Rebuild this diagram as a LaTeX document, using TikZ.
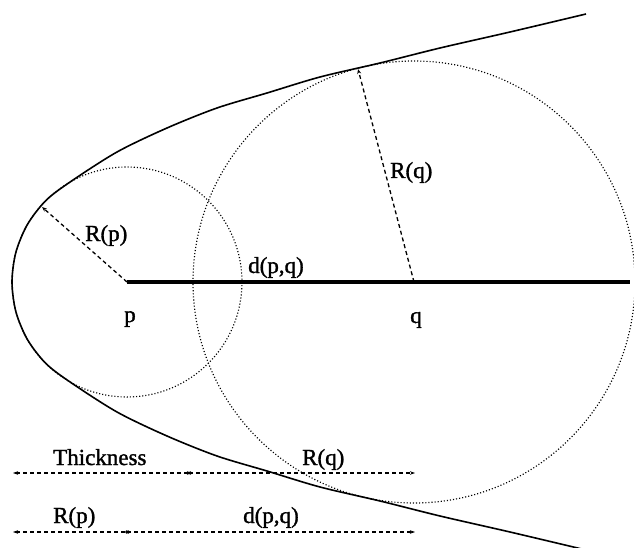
\documentclass[tikz,border=0pt]{standalone}
\usepackage{fontspec}
\setmainfont{Liberation Serif}
\newfontfamily\labfont{Liberation Serif}[FakeBold=1.3]
\usetikzlibrary{arrows.meta}
\begin{document}
\begin{tikzpicture}[x=1pt,y=-1pt,
  curve/.style={line width=1.6pt},
  axisline/.style={line width=3.3pt},
  dotcirc/.style={line width=1.15pt, dash pattern=on 1.1pt off 2pt},
  radiusline/.style={line width=1.3pt, dash pattern=on 4pt off 3pt, -{Stealth[length=5pt,width=4pt]}},
  meas/.style={line width=1.1pt, dash pattern=on 4pt off 3pt, {Stealth[length=5pt,width=3.5pt]}-{Stealth[length=5pt,width=3.5pt]}},
  lab/.style={inner sep=0pt, anchor=base west, font=\fontsize{23}{27}\labfont},
  clab/.style={inner sep=0pt, anchor=base, font=\fontsize{23}{27}\labfont}]
\useasboundingbox (0,0) rectangle (634,548);
\clip (0,0) rectangle (634,548);

% key points
\coordinate (p) at (127,282);
\coordinate (q) at (414,282);
\coordinate (e) at (630,282);
\coordinate (rp) at (42,207);
\coordinate (rq) at (358,69);

% boundary curve
\draw[curve] plot[smooth, tension=0.5] coordinates {
  (586,14) (510,32) (440,48) (380,63) (320,77) (267,93) (217,108) (167,128)
  (117,152) (69.5,182.4) (45.7,200.7) (27.4,224.5) (15.9,252.2) (12,282)
  (15.9,311.8) (27.4,339.5) (45.7,363.3) (69.5,381.6) (117,412) (167,436)
  (217,456) (267,471) (320,487) (380,501) (440,516) (510,532) (586,550)};

% dotted circles
\draw[dotcirc] (p) circle[radius=115];
\draw[dotcirc] (q) circle[radius=221];

% medial axis segment
\draw[axisline] (p) -- (e);

% radii
\draw[radiusline] (p) -- (rp);
\draw[radiusline] (q) -- (rq);

% labels
\node[lab] (lrp) at (85,241) {R(p)};
\node[lab] (ldpq) at (248,273) {d(p,q)};
\node[clab] (lp) at (130,322) {p};
\node[clab] (lq) at (416,323) {q};
\node[lab] (lrq) at (390,178) {R(q)};

% bottom measures
\coordinate (a0) at (13,473);
\coordinate (a1) at (192,473);
\coordinate (a2) at (186,473);
\coordinate (a3) at (415,473);
\coordinate (b0) at (13,532);
\coordinate (b1) at (131,532);
\coordinate (b2) at (124,532);
\coordinate (b3) at (415,532);
\draw[meas] (a0) -- (a1);
\draw[meas] (a2) -- (a3);
\draw[meas] (b0) -- (b1);
\draw[meas] (b2) -- (b3);
\node[lab] (lth) at (53,465) {Thickness};
\node[lab] (lrq2) at (302,465) {R(q)};
\node[lab] (lrp2) at (53,523) {R(p)};
\node[lab] (ldpq2) at (243,523) {d(p,q)};
\end{tikzpicture}
\end{document}
